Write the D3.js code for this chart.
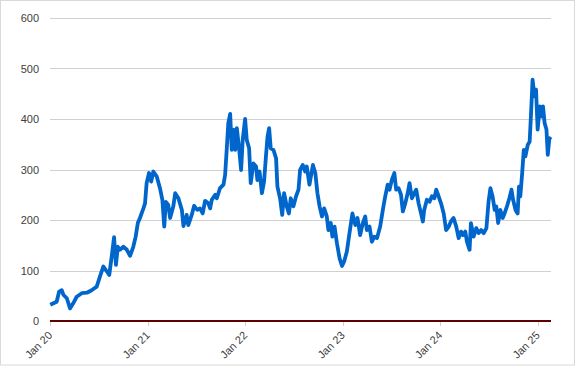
<!DOCTYPE html>
<html><head><meta charset="utf-8">
<script src="https://cdn.jsdelivr.net/npm/d3@7"></script>
<style>body{margin:0;background:#fff}svg{display:block}text{font-family:"Liberation Sans",Arial,sans-serif}</style>
</head><body><svg id="c" width="577" height="366"></svg>
<script>
const dates = ["2020-01-02","2020-01-26","2020-02-04","2020-02-14","2020-02-20","2020-03-04","2020-03-16","2020-03-28","2020-04-10","2020-04-29","2020-05-18","2020-06-05","2020-06-24","2020-07-06","2020-07-19","2020-08-01","2020-08-10","2020-08-19","2020-08-28","2020-09-04","2020-09-11","2020-09-19","2020-10-02","2020-10-15","2020-10-27","2020-11-08","2020-11-17","2020-11-25","2020-12-03","2020-12-16","2020-12-22","2020-12-28",
"2021-01-06","2021-01-14","2021-01-22","2021-02-04","2021-02-16","2021-02-25","2021-03-04","2021-03-10","2021-03-19","2021-03-26","2021-04-07","2021-04-14","2021-04-26","2021-05-09","2021-05-15","2021-05-27","2021-06-02","2021-06-15","2021-06-24","2021-07-06","2021-07-16","2021-07-26","2021-08-04","2021-08-16","2021-08-23","2021-08-29","2021-09-11","2021-09-17","2021-09-29","2021-10-12","2021-10-18","2021-10-24","2021-10-30","2021-11-06","2021-11-12","2021-11-18","2021-11-25","2021-12-01","2021-12-10","2021-12-17","2021-12-23",
"2022-01-01","2022-01-07","2022-01-16","2022-01-22","2022-02-01","2022-02-11","2022-02-16","2022-02-24","2022-03-05","2022-03-13","2022-03-20","2022-03-26","2022-04-01","2022-04-07","2022-04-17","2022-04-27","2022-05-02","2022-05-12","2022-05-20","2022-05-27","2022-06-06","2022-06-14","2022-06-21","2022-07-01","2022-07-11","2022-07-20","2022-07-26","2022-08-05","2022-08-14","2022-08-20","2022-08-30","2022-09-12","2022-09-21","2022-09-29","2022-10-07","2022-10-16","2022-10-24","2022-11-03","2022-11-09","2022-11-18","2022-11-24","2022-12-02","2022-12-11","2022-12-21","2022-12-30",
"2023-01-07","2023-01-17","2023-01-27","2023-02-07","2023-02-18","2023-02-26","2023-03-08","2023-03-18","2023-03-27","2023-04-02","2023-04-12","2023-04-21","2023-04-30","2023-05-10","2023-05-22","2023-06-01","2023-06-10","2023-06-19","2023-06-26","2023-07-05","2023-07-14","2023-07-21","2023-07-30","2023-08-08","2023-08-15","2023-08-24","2023-09-02","2023-09-09","2023-09-18","2023-09-27","2023-10-04","2023-10-13","2023-10-22","2023-10-29","2023-11-03","2023-11-13","2023-11-23","2023-12-02","2023-12-11","2023-12-18","2023-12-27",
"2024-01-05","2024-01-15","2024-01-24","2024-02-03","2024-02-11","2024-02-21","2024-03-02","2024-03-11","2024-03-20","2024-03-27","2024-04-05","2024-04-11","2024-04-21","2024-04-26","2024-05-06","2024-05-16","2024-05-25","2024-06-03","2024-06-13","2024-06-23","2024-07-01","2024-07-08","2024-07-16","2024-07-24","2024-07-30","2024-08-06","2024-08-14","2024-08-23","2024-08-30","2024-09-08","2024-09-17","2024-09-25","2024-10-01","2024-10-10","2024-10-18","2024-10-23","2024-10-28","2024-11-04","2024-11-10","2024-11-16","2024-11-25","2024-12-02","2024-12-07","2024-12-13","2024-12-20","2024-12-26",
"2025-01-01","2025-01-09","2025-01-15","2025-01-21","2025-01-27","2025-02-03","2025-02-08","2025-02-14","2025-02-20"];
const values = [32,38,58,61,52,45,25,35,48,55,56,61,68,88,108,98,91,127,166,111,147,141,147,141,129,147,167,194,204,223,233,273,
293,276,296,286,263,240,187,236,230,204,227,253,243,220,188,210,190,210,228,220,223,213,238,233,223,240,250,243,263,270,289,339,392,410,339,379,339,382,339,299,359,
400,359,342,273,312,306,279,296,253,276,326,365,382,342,339,322,266,243,210,253,227,213,243,227,247,260,299,309,296,306,270,309,293,253,227,207,223,207,180,194,167,187,154,124,109,
118,137,174,213,190,204,170,194,207,180,187,157,167,164,187,220,247,270,260,280,293,260,263,250,217,233,253,273,243,253,260,233,213,197,220,240,236,247,243,260,247,
233,213,180,187,197,204,187,164,177,170,177,157,141,194,167,184,174,180,174,184,236,263,247,220,227,194,220,204,213,227,243,260,240,220,213,266,247,293,339,326,349,355,408,478,445,458,
379,425,405,425,392,379,329,362,359];
const yTicks = [0,100,200,300,400,500,600];
const xTickLabels = ["Jan 20","Jan 21","Jan 22","Jan 23","Jan 24","Jan 25"];
const xTickDates = ["2020-01-01","2021-01-01","2022-01-01","2023-01-01","2024-01-01","2025-01-01"];

const parse = d3.timeParse("%Y-%m-%d");
const data = dates.map((d,i)=>({date:parse(d), value:values[i]}));
const svg = d3.select("#c");
const L=50, R=551, T=18, B=321;
const x = d3.scaleTime().domain([parse("2020-01-01"), d3.max(data,d=>d.date)]).range([L,R]);
const y = d3.scaleLinear().domain([0,600]).range([B,T]);

svg.append("rect").attr("x",0.5).attr("y",0.5).attr("width",574).attr("height",364.5)
  .attr("fill","#fff").attr("stroke","#d9d9d9");

// gridlines
svg.append("g").selectAll("line").data(yTicks.filter(t=>t>0)).join("line")
  .attr("x1",L).attr("x2",R).attr("y1",d=>Math.round(y(d))+0.5).attr("y2",d=>Math.round(y(d))+0.5)
  .attr("stroke","#d0d0d0").attr("stroke-width",1);

// y labels
svg.append("g").selectAll("text").data(yTicks).join("text")
  .attr("x",39).attr("y",d=>y(d)+4).attr("text-anchor","end")
  .attr("font-size","11px").attr("fill","#404040").text(d=>d);

// x tick marks and labels
const xt = xTickDates.map(parse);
svg.append("g").selectAll("line").data(xt).join("line")
  .attr("x1",d=>Math.round(x(d))+0.5).attr("x2",d=>Math.round(x(d))+0.5).attr("y1",B).attr("y2",B+5)
  .attr("stroke","#d0d0d0");
svg.append("g").selectAll("text").data(xt).join("text")
  .attr("transform",(d)=>`translate(${x(d)+3},${B+15}) rotate(-45)`)
  .attr("text-anchor","end").attr("font-size","11px").attr("fill","#404040")
  .text((d,i)=>xTickLabels[i]);

// line
const line = d3.line().x(d=>x(d.date)).y(d=>y(d.value));
svg.append("path").datum(data).attr("d",line).attr("fill","none")
  .attr("stroke","#0066cc").attr("stroke-width",3.8).attr("stroke-linejoin","round");

// zero axis
svg.append("line").attr("x1",L).attr("x2",R).attr("y1",B).attr("y2",B)
  .attr("stroke","#5c0000").attr("stroke-width",2.2);
</script></body></html>
